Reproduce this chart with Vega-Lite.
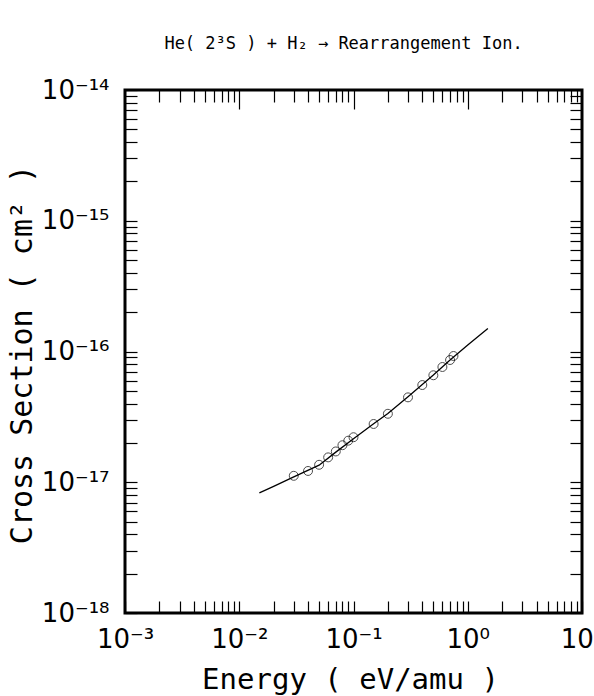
{
  "$schema": "https://vega.github.io/schema/vega-lite/v6.json",
  "autosize": "none",
  "width": 457,
  "height": 523,
  "padding": {"left": 125, "top": 90, "right": 12, "bottom": 83},
  "background": "white",
  "title": {"text": "He( 2³S ) + H₂ → Rearrangement Ion.", "font": "DejaVu Sans Mono", "fontSize": 17, "fontWeight": "normal", "color": "black", "offset": 11, "baseline": "alphabetic", "anchor": "middle", "dx": -10},
  "config": {
    "view": {"stroke": "black", "strokeWidth": 3},
    "axis": {"domain": false, "grid": false, "tickColor": "black", "tickWidth": 1.2, "labelColor": "black", "titleColor": "black", "labelFont": "DejaVu Sans", "titleFont": "DejaVu Sans Mono", "titleFontWeight": "normal"}
  },
  "datasets": {
    "curve": [
      {"energy": 0.015, "cs": 8.3e-18},
      {"energy": 0.02, "cs": 9.3e-18},
      {"energy": 0.03, "cs": 1.1e-17},
      {"energy": 0.05, "cs": 1.35e-17},
      {"energy": 0.07, "cs": 1.7e-17},
      {"energy": 0.1, "cs": 2.15e-17},
      {"energy": 0.15, "cs": 2.8e-17},
      {"energy": 0.2, "cs": 3.35e-17},
      {"energy": 0.3, "cs": 4.5e-17},
      {"energy": 0.5, "cs": 6.6e-17},
      {"energy": 0.7, "cs": 8.6e-17},
      {"energy": 1.0, "cs": 1.12e-16},
      {"energy": 1.5, "cs": 1.5e-16}
    ],
    "points": [
      {"energy": 0.03, "cs": 1.12e-17},
      {"energy": 0.04, "cs": 1.22e-17},
      {"energy": 0.05, "cs": 1.36e-17},
      {"energy": 0.06, "cs": 1.55e-17},
      {"energy": 0.07, "cs": 1.72e-17},
      {"energy": 0.08, "cs": 1.92e-17},
      {"energy": 0.09, "cs": 2.08e-17},
      {"energy": 0.1, "cs": 2.21e-17},
      {"energy": 0.15, "cs": 2.79e-17},
      {"energy": 0.2, "cs": 3.34e-17},
      {"energy": 0.3, "cs": 4.46e-17},
      {"energy": 0.4, "cs": 5.54e-17},
      {"energy": 0.5, "cs": 6.58e-17},
      {"energy": 0.6, "cs": 7.61e-17},
      {"energy": 0.7, "cs": 8.61e-17},
      {"energy": 0.75, "cs": 9.24e-17}
    ]
  },
  "resolve": {"axis": {"x": "independent", "y": "independent"}},
  "layer": [
    {
      "data": {"name": "curve"},
      "mark": {"type": "line", "color": "black", "strokeWidth": 1.3, "clip": true},
      "encoding": {
        "x": {"field": "energy", "type": "quantitative", "scale": {"type": "log", "domain": [0.001, 10], "nice": false},
          "axis": {"orient": "bottom", "values": [0.001,0.002,0.003,0.004,0.005,0.006,0.007,0.008,0.009,0.01,0.02,0.03,0.04,0.05,0.06,0.07,0.08,0.09,0.1,0.2,0.3,0.4,0.5,0.6,0.7,0.8,0.9,1,2,3,4,5,6,7,8,9,10],
            "labelExpr": "datum.value == 0.001 ? '10⁻³' : datum.value == 0.01 ? '10⁻²' : datum.value == 0.1 ? '10⁻¹' : datum.value == 1 ? '10⁰' : datum.value == 10 ? '10¹' : ''",
            "tickSize": -12, "labelPadding": 25, "labelFontSize": 26, "labelBaseline": "top", "labelOverlap": false, "labelFlush": false,
            "title": "Energy ( eV/amu )", "titleFontSize": 29, "titleX": 225, "titleY": 75, "titleBaseline": "alphabetic", "titleAnchor": "middle"}},
        "y": {"field": "cs", "type": "quantitative", "scale": {"type": "log", "domain": [1e-18, 1e-14], "nice": false},
          "axis": {"orient": "left", "values": [1e-18,2e-18,3e-18,4e-18,5e-18,6e-18,7e-18,8e-18,9e-18,1e-17,2e-17,3e-17,4e-17,5e-17,6e-17,7e-17,8e-17,9e-17,1e-16,2e-16,3e-16,4e-16,5e-16,6e-16,7e-16,8e-16,9e-16,1e-15,2e-15,3e-15,4e-15,5e-15,6e-15,7e-15,8e-15,9e-15,1e-14],
            "labelExpr": "datum.value == 1e-18 ? '10⁻¹⁸' : datum.value == 1e-17 ? '10⁻¹⁷' : datum.value == 1e-16 ? '10⁻¹⁶' : datum.value == 1e-15 ? '10⁻¹⁵' : datum.value == 1e-14 ? '10⁻¹⁴' : ''",
            "tickSize": -12, "labelPadding": 28, "labelFontSize": 26, "labelBaseline": "middle", "labelOverlap": false, "labelFlush": false,
            "title": "Cross Section ( cm² )", "titleFontSize": 30, "titleX": -103, "titleY": 264, "titleBaseline": "middle", "titleAnchor": "middle", "titleAngle": -90}}
      }
    },
    {
      "data": {"name": "points"},
      "mark": {"type": "point", "shape": "circle", "filled": false, "color": "black", "size": 80, "strokeWidth": 1},
      "encoding": {
        "x": {"field": "energy", "type": "quantitative",
          "axis": {"orient": "top", "values": [0.002,0.003,0.004,0.005,0.006,0.007,0.008,0.009,0.02,0.03,0.04,0.05,0.06,0.07,0.08,0.09,0.2,0.3,0.4,0.5,0.6,0.7,0.8,0.9,2,3,4,5,6,7,8,9], "labels": false, "tickSize": -12, "title": null}},
        "y": {"field": "cs", "type": "quantitative",
          "axis": {"orient": "right", "values": [1e-18,2e-18,3e-18,4e-18,5e-18,6e-18,7e-18,8e-18,9e-18,1e-17,2e-17,3e-17,4e-17,5e-17,6e-17,7e-17,8e-17,9e-17,1e-16,2e-16,3e-16,4e-16,5e-16,6e-16,7e-16,8e-16,9e-16,1e-15,2e-15,3e-15,4e-15,5e-15,6e-15,7e-15,8e-15,9e-15,1e-14], "labels": false, "tickSize": -12, "title": null}}
      }
    },
    {
      "data": {"name": "points"},
      "mark": {"type": "point", "opacity": 0},
      "encoding": {
        "x": {"field": "energy", "type": "quantitative",
          "axis": {"orient": "top", "values": [0.01, 0.1, 1], "labels": false, "tickSize": -19, "title": null}},
        "y": {"field": "cs", "type": "quantitative", "axis": null}
      }
    }
  ]
}
